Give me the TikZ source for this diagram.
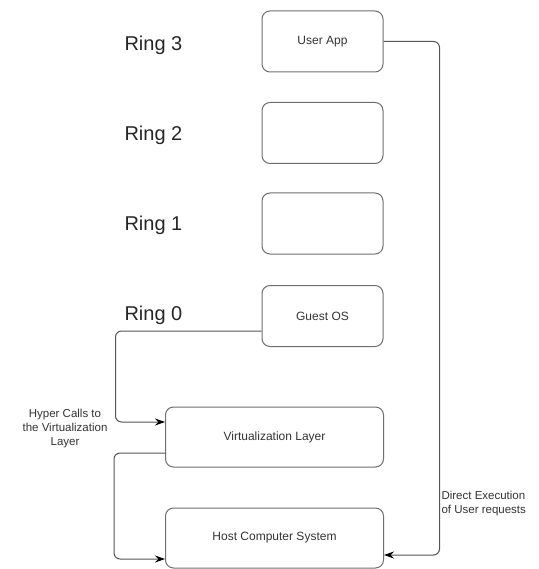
\documentclass[tikz,border=0pt]{standalone}
\usepackage{fontspec}
\usetikzlibrary{arrows.meta}
\setmainfont{Liberation Sans}
\definecolor{boxline}{HTML}{6E6E6E}
\definecolor{wireline}{HTML}{555555}
\definecolor{labeltext}{HTML}{333333}
\begin{document}
\begin{tikzpicture}[x=1pt, y=-1pt,
    ringbox/.style={draw=boxline, line width=1pt, rounded corners=8pt, minimum width=121pt, minimum height=61pt, font=\fontsize{12}{14}\selectfont, text=labeltext},
    widebox/.style={ringbox, minimum width=218pt, minimum height=60pt},
    ringlabel/.style={anchor=west, font=\fontsize{20}{24}\selectfont, text=black!85},
    wire/.style={draw=wireline, line width=1pt, rounded corners=6pt, -{Stealth[length=10pt, width=7pt, color=black]}},
    note/.style={font=\fontsize{11.5}{14}\selectfont, text=labeltext}]
    \useasboundingbox (0,0) rectangle (538,569);

    % Nodes
    \node[ringbox] at (322.5, 41.5) (app) {User App};
    \node[ringbox] at (322.5, 133) (ring2box) {};
    \node[ringbox] at (322.5, 223.5) (ring1box) {};
    \node[ringbox] at (322.5, 316) (guest) {Guest OS};
    \node[widebox] at (274.5, 437) (virt) {Virtualization Layer};
    \node[widebox] at (274.5, 538) (host) {Host Computer System};

    % Ring labels
    \node[ringlabel] at (121, 45) (ring3) {Ring 3};
    \node[ringlabel] at (121, 135) (ring2) {Ring 2};
    \node[ringlabel] at (121, 225) (ring1) {Ring 1};
    \node[ringlabel] at (121, 315) (ring0) {Ring 0};

    % Edges
    \draw[wire] ([yshift=-15pt]guest.west) -- ++(-146,0) |- ([yshift=15pt]virt.west);
    \draw[wire] ([yshift=-16pt]virt.west) -- ++(-51,0) |- ([yshift=-21pt]host.west);
    \draw[wire] (app.east) -- ++(56,0) |- ([yshift=-17pt]host.east);

    % Edge labels
    \node[note, align=center] at (65, 429) (hyper) {Hyper Calls to\\the Virtualization\\Layer};
    \node[note, align=left, anchor=west] at (438, 504) (direct) {Direct Execution\\of User requests};
\end{tikzpicture}
\end{document}
